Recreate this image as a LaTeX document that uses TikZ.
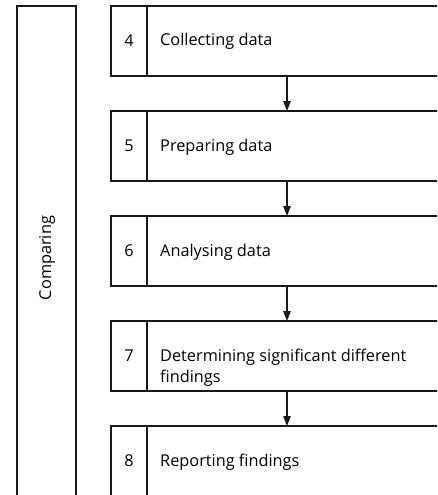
\documentclass[tikz,border=0pt]{standalone}
\usepackage{fontspec}
\setmainfont{Open Sans}
\usetikzlibrary{arrows.meta}
\newcommand{\stagetext}[1]{\begin{tabular}[t]{@{}l@{}}#1\end{tabular}}

\begin{document}
\begin{tikzpicture}[x=1pt,y=-1pt,
  font=\fontsize{16.3}{21}\selectfont,
  box/.style={draw=black!90,line width=1.1pt,minimum height=70pt,inner sep=0pt,outer sep=0pt},
  num/.style={box,minimum width=36pt,anchor=north west},
  stage/.style={box,minimum width=320pt,anchor=north west},
  lbl/.style={inner sep=0pt,anchor=base west},
  flow/.style={draw=black!90,line width=1.1pt,-{Triangle[length=10pt,width=7.5pt]}}]
\useasboundingbox (0,0) rectangle (437,495);
\clip (0,0) rectangle (437,495);
% left bracket box
\node[box,minimum width=59pt,minimum height=520pt,anchor=north west] (cmp) at (17,6) {};
\node[rotate=90] (cmplabel) at (47,258) {Comparing};
% steps
\foreach \n/\txt [count=\i from 0] in {4/{Collecting data},5/{Preparing data},6/{Analysing data},
    7/{Determining significant different\\findings},8/{Reporting findings}}{
  \node[num] (n\n) at (111,{6+105*\i}) {\n};
  \node[stage] (t\n) at (n\n.north east) {};
  \node[lbl] (l\n) at ([xshift=13pt,yshift=-40pt]t\n.north west) {\stagetext{\txt}};
}
\foreach \a/\b in {4/5,5/6,6/7,7/8}
  \draw[flow] ([xshift=140pt]t\a.south west) -- ([xshift=140pt]t\b.north west);
\end{tikzpicture}
\end{document}
